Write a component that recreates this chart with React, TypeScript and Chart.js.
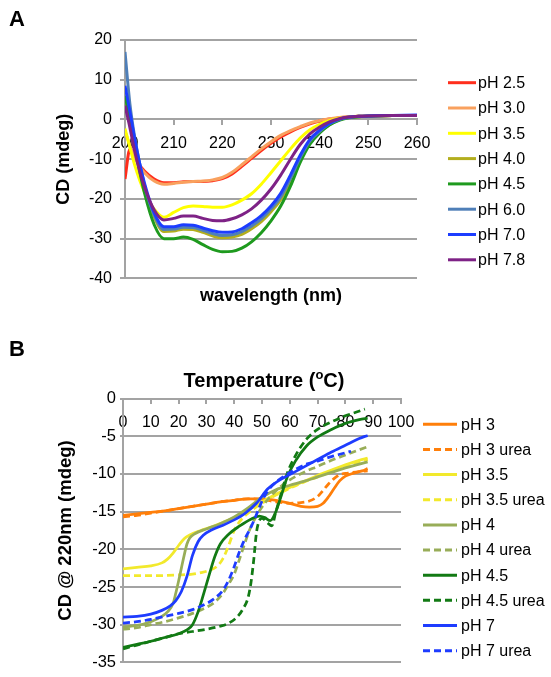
import React, { useEffect, useRef } from "react";
import { Chart, registerables } from "chart.js";

Chart.register(...registerables);

const FONT = "'Liberation Sans', Arial, Helvetica, sans-serif";
Chart.defaults.font.family = FONT;

// ---------- Panel A data ----------
const wavelengths = [200, 201, 202, 203, 204, 206, 208, 210, 212, 214, 216, 218, 220, 222, 224, 226, 228, 230, 232, 234, 236, 238, 240, 242, 244, 246, 248, 250, 255, 260];

const cdPH25 = [-15, -7.5, -9.5, -11.5, -13, -15, -15.9, -15.9, -15.7, -15.6, -15.6, -15.4, -14.9, -13.7, -11.8, -9.8, -7.8, -6, -4.4, -3.1, -2, -1.1, -0.4, 0.1, 0.4, 0.6, 0.8, 0.9, 1, 1];
const cdPH30 = [-3, -6.5, -9.5, -11.8, -13.4, -15.5, -16.3, -16.1, -15.8, -15.6, -15.5, -15.2, -14.6, -13.3, -11.4, -9.4, -7.4, -5.6, -4, -2.8, -1.8, -0.9, -0.3, 0.2, 0.5, 0.7, 0.8, 0.9, 1, 1];
const cdPH35 = [-2.3, -7, -11.5, -15.2, -18.2, -22.6, -24.6, -23.4, -22.2, -21.8, -21.9, -22.1, -22.1, -21.5, -20.3, -18.7, -16.3, -13.4, -10.4, -7.4, -4.7, -2.6, -1.2, -0.3, 0.3, 0.6, 0.8, 0.9, 1, 1];
const cdPH40 = [4, -1, -7, -12.5, -17, -24.5, -28.2, -28.1, -27.6, -27.7, -28.4, -29.3, -29.8, -29.6, -28.9, -27.5, -25.7, -23.2, -20.2, -15.5, -10.2, -5.8, -3.2, -1.3, -0.1, 0.5, 0.7, 0.9, 1, 1];
const cdPH45 = [6, 0, -7, -13, -18.5, -26.5, -30, -30, -29.6, -30.2, -31.5, -32.7, -33.3, -33.2, -32.4, -30.8, -28.5, -25.5, -21.8, -16.8, -10.8, -6.2, -3.4, -1.4, -0.2, 0.4, 0.7, 0.8, 1, 1];
const cdPH60 = [17, 4, -4.5, -11, -16.5, -24, -27.7, -27.6, -27.1, -27.2, -27.9, -28.7, -29.2, -29, -28.2, -26.8, -25, -22.5, -19.5, -14.8, -9.6, -5.4, -3, -1.1, 0, 0.5, 0.8, 0.9, 1, 1];
const cdPH70 = [8.5, 2, -5, -11, -16, -23.5, -27, -27, -26.5, -26.6, -27.3, -28, -28.4, -28.3, -27.5, -26, -24.2, -21.8, -18.6, -14, -9, -5, -2.7, -1, 0.1, 0.6, 0.8, 0.9, 1, 1.1];
const cdPH78 = [3.5, -2, -8, -13, -17, -22.8, -25.3, -24.9, -24.3, -24.3, -24.9, -25.4, -25.5, -25, -24, -22.5, -20.3, -17.5, -14, -10, -6.3, -3.6, -1.9, -0.6, 0.2, 0.6, 0.8, 0.9, 1, 1];

const labelsA = ["pH 2.5", "pH 3.0", "pH 3.5", "pH 4.0", "pH 4.5", "pH 6.0", "pH 7.0", "pH 7.8"];
const colorsA = ["#FF2E1C", "#F9A15E", "#FFFF00", "#B3AE1E", "#1E9A1E", "#4F7FB8", "#1C3DFF", "#7E2286"];
const seriesA = [cdPH25, cdPH30, cdPH35, cdPH40, cdPH45, cdPH60, cdPH70, cdPH78];

// ---------- Panel B data: [temperature, CD @ 220nm] ----------
const meltPH3 = [[0, -15.5], [5, -15.3], [10, -15.1], [15, -14.9], [20, -14.6], [25, -14.3], [30, -14], [35, -13.7], [40, -13.5], [45, -13.3], [50, -13.3], [55, -13.5], [60, -13.9], [64, -14.3], [67, -14.4], [70, -14.3], [72, -13.9], [74, -13], [76, -11.9], [78, -10.9], [80, -10.3], [83, -9.9], [86, -9.6], [88, -9.3]];
const meltPH3Urea = [[0, -15.7], [5, -15.5], [10, -15.2], [15, -14.9], [20, -14.6], [25, -14.3], [30, -14], [35, -13.7], [40, -13.5], [45, -13.3], [50, -13.4], [55, -13.7], [60, -13.9], [64, -13.8], [67, -13.6], [70, -13], [72, -12.2], [74, -11.3], [76, -10.6], [78, -10.1], [81, -9.9], [85, -9.7], [88, -9.6]];
const meltPH35 = [[0, -22.6], [5, -22.4], [10, -22.2], [14, -21.8], [16, -21.3], [18, -20.5], [20, -19.5], [22, -18.6], [24, -18.1], [28, -17.5], [32, -17], [36, -16.4], [40, -15.8], [45, -14.8], [50, -13.7], [55, -12.7], [60, -11.8], [65, -11], [70, -10.2], [75, -9.5], [80, -8.8], [85, -8.2], [88, -7.9]];
const meltPH35Urea = [[0, -23.5], [10, -23.5], [20, -23.4], [25, -23.3], [28, -23.1], [31, -22.8], [34, -22.2], [36, -21.2], [38, -19.5], [40, -17.5], [42, -16.3], [45, -15.2], [50, -13.9], [55, -12.8], [60, -11.9], [65, -11.1], [70, -10.4], [75, -9.7], [80, -9], [85, -8.4], [88, -8.1]];
const meltPH4 = [[0, -30.3], [5, -30.1], [10, -29.6], [14, -28.9], [16, -28.3], [18, -27.2], [19, -25.8], [20, -24.2], [21, -22.5], [22, -20.8], [23, -19.3], [24, -18.5], [26, -17.9], [30, -17.3], [35, -16.6], [40, -15.7], [45, -14.5], [50, -13.1], [55, -12.1], [60, -11.5], [65, -11], [70, -10.4], [75, -9.8], [80, -9.2], [85, -8.7], [88, -8.4]];
const meltPH4Urea = [[0, -30.6], [5, -30.4], [10, -30], [15, -29.6], [20, -29.1], [25, -28.5], [30, -27.7], [33, -27], [36, -25.8], [38, -24.6], [40, -23.3], [42, -21.2], [44, -19], [46, -17], [48, -15.6], [50, -14.4], [53, -13], [56, -11.9], [60, -10.8], [65, -9.8], [70, -9], [75, -8.2], [80, -7.5], [85, -6.8], [88, -6.4]];
const meltPH45 = [[0, -33], [5, -32.6], [10, -32.2], [15, -31.7], [20, -31.2], [23, -30.7], [25, -30], [27, -28.3], [29, -25.9], [31, -23.4], [33, -21], [35, -19.3], [38, -18], [42, -16.9], [46, -16], [49, -15.6], [51, -15.8], [53, -16.2], [55, -15], [57, -12.8], [59, -10.5], [62, -8.3], [66, -6.3], [70, -5.1], [75, -4.1], [80, -3.3], [85, -2.8], [88, -2.6]];
const meltPH45Urea = [[0, -33.2], [5, -32.7], [10, -32.2], [15, -31.7], [20, -31.2], [25, -30.9], [30, -30.6], [35, -30.2], [38, -29.8], [41, -29], [43, -28], [45, -26.4], [46, -24.5], [47, -21.5], [48, -17.8], [49, -16.2], [50, -15.9], [52, -16.5], [53.5, -16.9], [55, -15], [57, -12.5], [59, -10], [62, -7.6], [66, -5.4], [70, -4.1], [75, -3.1], [80, -2.3], [84, -1.8], [87, -1.4]];
const meltPH7 = [[0, -29], [5, -28.9], [10, -28.6], [14, -28.1], [17, -27.5], [19, -26.8], [21, -25.6], [23, -23.6], [25, -20.8], [27, -19], [29, -18.1], [32, -17.4], [36, -16.8], [40, -16.1], [44, -15.2], [48, -13.9], [52, -12], [56, -10.9], [60, -10.1], [65, -9.1], [70, -8.1], [75, -7.1], [80, -6.2], [85, -5.3], [88, -4.9]];
const meltPH7Urea = [[0, -29.8], [5, -29.6], [10, -29.3], [15, -28.9], [20, -28.5], [25, -28], [30, -27.2], [33, -26.5], [36, -25.4], [38, -24.1], [40, -22.3], [42, -20.2], [44, -18.5], [46, -17.1], [48, -15.4], [50, -13.6], [52, -12.3], [55, -11.1], [58, -10.3], [62, -9.4], [66, -8.7], [70, -8.3], [75, -7.7], [79, -7.3], [82, -7]];

const labelsB = ["pH 3", "pH 3 urea", "pH 3.5", "pH 3.5 urea", "pH 4", "pH 4 urea", "pH 4.5", "pH 4.5 urea", "pH 7", "pH 7 urea"];
const colorsB = ["#FF7F0A", "#FF7F0A", "#F2E92C", "#F2E92C", "#98AD58", "#98AD58", "#127A14", "#127A14", "#1E3CFF", "#1E3CFF"];
const dashedB = [false, true, false, true, false, true, false, true, false, true];
const seriesB = [meltPH3, meltPH3Urea, meltPH35, meltPH35Urea, meltPH4, meltPH4Urea, meltPH45, meltPH45Urea, meltPH7, meltPH7Urea];

const GRID = "#A3A3A3";
const DASH = [7, 4];

function drawLegend(ctx, datasets, x0, x1, xt, y0, dy, lw) {
  datasets.forEach((ds, i) => {
    const y = y0 + i * dy;
    ctx.save();
    ctx.strokeStyle = ds.borderColor;
    ctx.lineWidth = lw;
    ctx.setLineDash(ds.borderDash && ds.borderDash.length ? ds.borderDash : []);
    ctx.beginPath();
    ctx.moveTo(x0, y);
    ctx.lineTo(x1, y);
    ctx.stroke();
    ctx.restore();
    ctx.save();
    ctx.fillStyle = "#000";
    ctx.font = `16px ${FONT}`;
    ctx.textBaseline = "middle";
    ctx.textAlign = "left";
    ctx.fillText(ds.label, xt, y + 1);
    ctx.restore();
  });
}

const overlayA = {
  id: "overlayA",
  afterDraw(chart) {
    const ctx = chart.ctx;
    ctx.save();
    ctx.fillStyle = "#000";
    ctx.font = `bold 22px ${FONT}`;
    ctx.textBaseline = "alphabetic";
    ctx.fillText("A", 9, 26);
    ctx.restore();
    drawLegend(ctx, chart.data.datasets, 448, 476, 478, 82.7, 25.3, 3);
  },
};

const overlayB = {
  id: "overlayB",
  afterDraw(chart) {
    const ctx = chart.ctx;
    ctx.save();
    ctx.fillStyle = "#000";
    ctx.font = `bold 22px ${FONT}`;
    ctx.textBaseline = "alphabetic";
    ctx.fillText("B", 9, 26);
    // axis title with superscript
    const big = `bold 20px ${FONT}`;
    const small = `bold 13px ${FONT}`;
    const p1 = "Temperature (";
    const p2 = "o";
    const p3 = "C)";
    ctx.font = big;
    const w1 = ctx.measureText(p1).width;
    const w3 = ctx.measureText(p3).width;
    ctx.font = small;
    const w2 = ctx.measureText(p2).width;
    const total = w1 + w2 + w3;
    const area = chart.chartArea;
    const cx = (area.left + area.right) / 2 + 2;
    let x = cx - total / 2;
    const base = 57;
    ctx.font = big;
    ctx.fillText(p1, x, base);
    x += w1;
    ctx.font = small;
    ctx.fillText(p2, x, base - 8);
    x += w2;
    ctx.font = big;
    ctx.fillText(p3, x, base);
    ctx.restore();
    drawLegend(ctx, chart.data.datasets, 423, 457, 461, 94.3, 25.15, 3);
  },
};

export default function App() {
  const refA = useRef(null);
  const refB = useRef(null);

  useEffect(() => {
    const chartA = new Chart(refA.current, {
      type: "line",
      data: {
        labels: wavelengths,
        datasets: seriesA.map((vals, i) => ({
          label: labelsA[i],
          data: vals.map((v, j) => ({ x: wavelengths[j], y: v })),
          borderColor: colorsA[i],
          backgroundColor: colorsA[i],
          borderWidth: 3,
          pointRadius: 0,
          cubicInterpolationMode: "monotone",
          fill: false,
          order: -i,
        })),
      },
      options: {
        animation: false,
        responsive: false,
        devicePixelRatio: 1,
        layout: { padding: { left: 53, top: 40, right: 134, bottom: 13 } },
        plugins: {
          legend: { display: false },
          tooltip: { enabled: false },
          title: {
            display: true,
            text: "wavelength (nm)",
            position: "bottom",
            fullSize: false,
            color: "#000",
            font: { size: 18, weight: "bold", family: FONT },
            padding: { top: 7, bottom: 0 },
          },
        },
        scales: {
          x: {
            type: "linear",
            min: 200,
            max: 260,
            position: { y: 0 },
            ticks: { stepSize: 10, color: "#000", font: { size: 16, family: FONT }, padding: 10, maxRotation: 0, autoSkip: false },
            grid: { drawOnChartArea: false, drawTicks: true, tickLength: 5, color: GRID, lineWidth: 2 },
            border: { display: true, color: GRID, width: 2 },
          },
          y: {
            type: "linear",
            min: -40,
            max: 20,
            ticks: { stepSize: 10, color: "#000", font: { size: 16, family: FONT }, padding: 8 },
            grid: { color: GRID, lineWidth: 2, tickLength: 5, drawTicks: true },
            border: { display: true, color: GRID, width: 2 },
            title: { display: true, text: "CD (mdeg)", color: "#000", font: { size: 18, weight: "bold", family: FONT }, padding: 0 },
            afterFit: (s) => { s.width = 72; },
          },
        },
      },
      plugins: [overlayA],
    });

    const chartB = new Chart(refB.current, {
      type: "line",
      data: {
        datasets: seriesB.map((pts, i) => ({
          label: labelsB[i],
          data: pts.map(([t, v]) => ({ x: t, y: v })),
          borderColor: colorsB[i],
          backgroundColor: colorsB[i],
          borderWidth: 2.75,
          borderDash: dashedB[i] ? DASH : [],
          pointRadius: 0,
          cubicInterpolationMode: "monotone",
          fill: false,
          order: -i,
        })),
      },
      options: {
        animation: false,
        responsive: false,
        devicePixelRatio: 1,
        layout: { padding: { left: 55, top: 68.5, right: 150, bottom: 14.6 } },
        plugins: {
          legend: { display: false },
          tooltip: { enabled: false },
        },
        scales: {
          x: {
            type: "linear",
            min: 0,
            max: 100,
            position: { y: 0 },
            ticks: { stepSize: 10, color: "#000", font: { size: 16, family: FONT }, padding: 10, maxRotation: 0, autoSkip: false },
            grid: { drawOnChartArea: false, drawTicks: true, tickLength: 4, color: GRID, lineWidth: 2 },
            border: { display: true, color: GRID, width: 2 },
          },
          y: {
            type: "linear",
            min: -35,
            max: 0,
            ticks: { stepSize: 5, color: "#000", font: { size: 16.5, family: FONT }, padding: 4 },
            grid: { color: GRID, lineWidth: 2, tickLength: 3, drawTicks: true },
            border: { display: true, color: GRID, width: 2 },
            title: { display: true, text: "CD @ 220nm (mdeg)", color: "#000", font: { size: 18.5, weight: "bold", family: FONT }, padding: 0 },
            afterFit: (s) => { s.width = 68; },
          },
        },
      },
      plugins: [overlayB],
    });

    return () => {
      chartA.destroy();
      chartB.destroy();
    };
  }, []);

  return (
    <div style={{ position: "absolute", left: 0, top: 0, width: 551, height: 677, background: "#fff" }}>
      <canvas ref={refA} width={551} height={320} style={{ position: "absolute", left: 0, top: 0, width: 551, height: 320 }} />
      <canvas ref={refB} width={551} height={347} style={{ position: "absolute", left: 0, top: 330, width: 551, height: 347 }} />
    </div>
  );
}
